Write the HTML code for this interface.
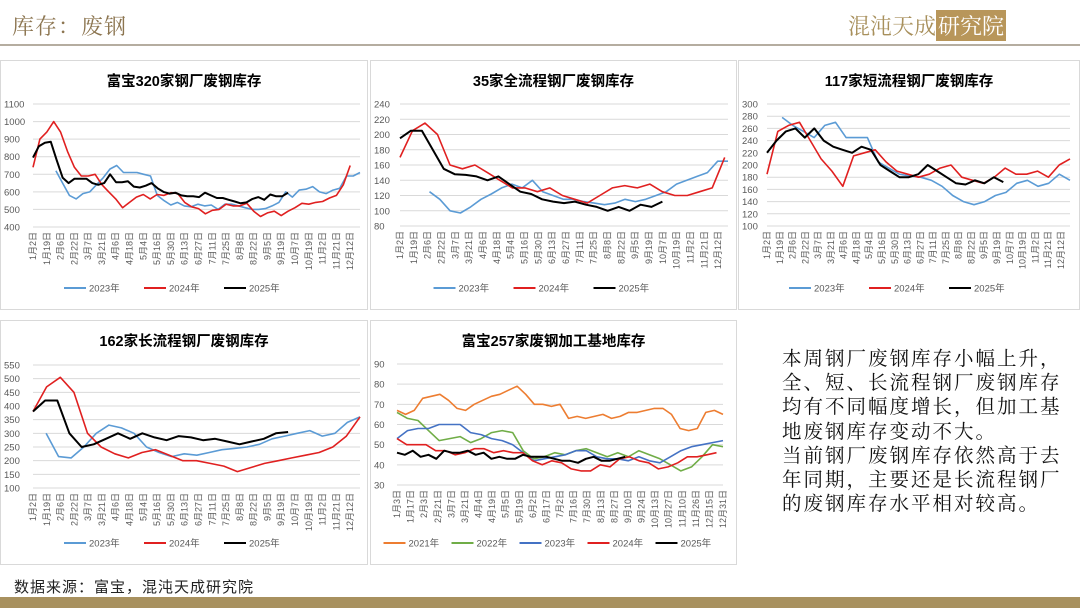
<!DOCTYPE html>
<html><head><meta charset="utf-8"><style>
body{margin:0;width:1080px;height:608px;overflow:hidden;background:#fff;position:relative;font-family:"Liberation Sans","Noto Sans CJK SC",sans-serif}
.hdr{position:absolute;left:12px;top:10px;font-size:22px;color:#8c7550;font-family:"Liberation Serif","Noto Serif CJK SC",serif;letter-spacing:1px}
.logo{position:absolute;left:848px;top:10px;font-size:22px;color:#a8905c;font-family:"Noto Serif CJK SC",serif}
.logo span{background:#b8965a;color:#fff;padding:0 2px}
.hl{position:absolute;left:0;top:44px;width:1080px;height:2px;background:#b5ada0}
.note{position:absolute;left:782px;top:345px;font-size:19.5px;line-height:24.2px;letter-spacing:2px;font-family:"Noto Serif CJK SC",serif;color:#111;white-space:nowrap}
.src{position:absolute;left:14px;top:576px;font-size:15px;color:#222;font-family:"Noto Sans CJK SC",sans-serif;letter-spacing:1px}
.bar{position:absolute;left:0;top:597px;width:1080px;height:11px;background:#a8915f}
svg{position:absolute;left:0;top:0}
</style></head><body>
<div class="hdr">库存：废钢</div>
<div class="logo">混沌天成<span>研究院</span></div>
<div class="hl"></div>
<svg id="s" width="1080" height="608"></svg>
<div class="note">本周钢厂废钢库存小幅上升，<br>全、短、长流程钢厂废钢库存<br>均有不同幅度增长，但加工基<br>地废钢库存变动不大。<br>当前钢厂废钢库存依然高于去<br>年同期，主要还是长流程钢厂<br>的废钢库存水平相对较高。</div>
<div class="src">数据来源：富宝，混沌天成研究院</div>
<div class="bar"></div>
<script>
const L1=["1月2日","1月19日","2月6日","2月22日","3月7日","3月21日","4月6日","4月18日","5月4日","5月16日","5月30日","6月13日","6月27日","7月11日","7月25日","8月8日","8月22日","9月5日","9月19日","10月7日","10月19日","11月2日","11月21日","12月12日"];
const L5=["1月3日","1月17日","2月3日","2月21日","3月7日","3月21日","4月4日","4月19日","5月5日","5月19日","6月2日","6月17日","7月2日","7月16日","7月30日","8月13日","8月27日","9月10日","9月24日","10月13日","10月27日","11月10日","11月26日","12月15日","12月31日"];
const B="#5b9bd5",R="#e02020",K="#000",O="#ed7d31",G="#70ad47",BL="#4472c4";
const charts=[
{box:[0,60,368,250],title:"富宝320家钢厂废钢库存",px:[33,360],py:[104,227],y:[400,1100,100],labels:L1,lx:0.97,
 ser:[["2023年",B,0.07,1,[720,650,580,560,590,600,640,680,730,750,710,710,710,700,690,580,550,525,540,520,515,530,520,525,500,530,530,520,510,500,500,505,520,540,600,570,610,615,630,600,590,610,620,690,690,710]],
 ["2024年",R,0,0.97,[740,900,940,1000,940,830,740,690,690,700,640,600,560,510,540,570,585,560,585,580,595,590,540,515,505,475,495,500,530,520,520,535,490,460,480,490,465,490,510,535,530,540,545,565,580,640,750]],
 ["2025年",K,0,0.78,[795,860,880,885,780,680,650,675,675,675,650,640,650,700,655,655,660,630,625,635,650,620,600,590,595,580,575,575,570,595,580,565,565,555,545,535,540,560,570,555,585,575,575,595]]]},
{box:[370,60,367,250],title:"35家全流程钢厂废钢库存",px:[400,728],py:[104,226],y:[80,240,20],labels:L1,lx:0.97,
 ser:[["2023年",B,0.09,1,[125,115,100,97,105,115,122,130,135,130,140,125,120,115,115,112,110,108,110,115,112,115,120,125,135,140,145,150,165,165]],
 ["2024年",R,0,0.99,[170,205,215,200,160,155,160,150,140,130,130,125,130,120,115,110,120,130,133,130,135,125,120,120,125,130,170]],
 ["2025年",K,0,0.8,[195,205,205,180,155,148,147,145,140,145,135,125,122,115,112,110,112,108,105,100,105,100,108,105,112]]]},
{box:[738,60,342,250],title:"117家短流程钢厂废钢库存",px:[767,1070],py:[104,226],y:[100,300,20],labels:L1,lx:0.97,
 ser:[["2023年",B,0.05,1,[278,265,255,245,265,270,245,245,245,205,195,185,182,180,175,165,150,140,135,140,150,155,170,175,165,170,185,175]],
 ["2024年",R,0,1,[185,255,265,270,240,210,190,165,215,220,225,205,190,185,180,185,195,200,180,175,170,180,195,185,185,190,180,200,210]],
 ["2025年",K,0,0.78,[220,240,255,260,245,260,240,230,225,220,230,225,200,190,180,180,185,200,190,180,170,168,175,170,180,172]]]},
{box:[0,320,368,245],title:"162家长流程钢厂废钢库存",px:[33,360],py:[365,488],y:[100,550,50],labels:L1,lx:0.97,
 ser:[["2023年",B,0.04,1,[300,215,210,250,300,330,320,300,250,230,215,225,220,230,240,245,250,260,280,290,300,310,290,300,340,360]],
 ["2024年",R,0,1,[380,470,505,450,300,250,225,210,230,240,220,200,200,190,180,160,175,190,200,210,220,230,250,290,360]],
 ["2025年",K,0,0.78,[380,420,420,300,250,260,280,300,280,300,285,275,290,285,275,280,270,260,270,280,300,305]]]},
{box:[370,320,367,245],title:"富宝257家废钢加工基地库存",px:[397,723],py:[364,485],y:[30,90,10],labels:L5,lx:1,
 ser:[["2021年",O,0,1,[67,65,67,73,74,75,72,68,67,70,72,74,75,77,79,75,70,70,69,70,63,64,63,64,65,63,64,66,66,67,68,68,65,58,57,58,66,67,65]],
 ["2022年",G,0,1,[66,63,62,57,52,53,54,51,53,56,57,56,47,43,44,46,45,47,48,46,44,46,44,47,45,43,40,37,39,44,50,49]],
 ["2023年",BL,0,1,[53,57,58,58,60,60,60,56,55,53,52,50,46,42,43,44,45,47,47,44,43,43,42,44,42,41,44,47,49,50,51,52]],
 ["2024年",R,0,0.98,[53,50,50,50,47,47,45,46,48,48,46,47,46,46,42,40,42,41,38,37,37,40,39,43,44,42,41,38,39,41,44,44,45,46]],
 ["2025年",K,0,0.7,[46,45,47,44,45,43,47,46,46,47,45,46,43,44,43,43,45,44,44,44,43,42,42,41,43,44,42,42,43,44]]]}
];
let h="";
for(const c of charts){
 const [bx,by,bw,bh]=c.box;
 h+=`<rect x="${bx+0.5}" y="${by+0.5}" width="${bw-1}" height="${bh-1}" fill="#fff" stroke="#d9d9d9"/>`;
 h+=`<text x="${bx+bw/2}" y="${by+26}" text-anchor="middle" font-size="14.5" font-weight="bold" font-family="Liberation Sans,Noto Sans CJK SC,sans-serif">${c.title}</text>`;
 const [x0,x1]=c.px,[yt,yb]=c.py,[ymin,ymax,st]=c.y;
 const Y=v=>yb-(v-ymin)/(ymax-ymin)*(yb-yt);
 for(let v=ymin;v<=ymax+1e-9;v+=st){h+=`<line x1="${x0}" x2="${x1}" y1="${Y(v)}" y2="${Y(v)}" stroke="#d9d9d9" stroke-width="1"/>`;
  h+=`<text x="${bx+4}" y="${Y(v)+3.5}" font-size="9.5" fill="#595959">${v}</text>`;}
 const n=c.labels.length;
 c.labels.forEach((l,i)=>{const x=x0+(x1-x0)*c.lx*i/(n-1)+3;h+=`<text transform="translate(${x},${yb+5}) rotate(-90)" text-anchor="end" font-size="9" fill="#595959">${l}</text>`;});
 const ns=c.ser.length,lw=ns==3?80:68,ly=by+bh-22;let lx0=bx+bw/2-lw*ns/2;
 c.ser.forEach((s,k)=>{const [nm,col,a,b,d]=s;
  const pts=d.map((v,i)=>`${(x0+(x1-x0)*(a+(b-a)*i/(d.length-1))).toFixed(1)},${Y(v).toFixed(1)}`).join(" ");
  h+=`<polyline points="${pts}" fill="none" stroke="${col}" stroke-width="${col==K?2:1.6}" stroke-linejoin="round"/>`;
  const lx=lx0+k*lw;h+=`<line x1="${lx}" x2="${lx+22}" y1="${ly}" y2="${ly}" stroke="${col}" stroke-width="2"/><text x="${lx+25}" y="${ly+3.5}" font-size="9.5" fill="#595959">${nm}</text>`;});
}
document.getElementById("s").innerHTML=h;
</script>
</body></html>
